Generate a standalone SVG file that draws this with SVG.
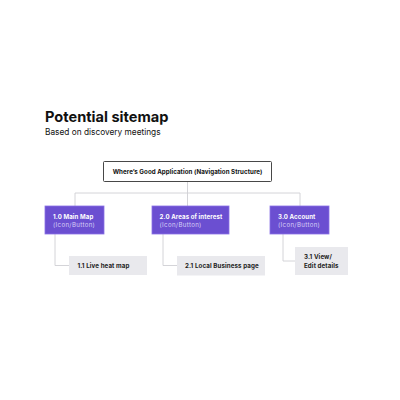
<svg xmlns="http://www.w3.org/2000/svg" width="400" height="400" viewBox="0 0 400 400">
<style>
text{font-family:"Inter","Liberation Sans",sans-serif}
.title{font-size:14.6px;font-weight:700;fill:#111}
.sub{font-size:8.3px;fill:#111}
.root{fill:#fff;stroke:#333;stroke-width:0.9}
.rootT{font-size:6.2px;font-weight:700;fill:#111;text-anchor:middle;letter-spacing:0.05px}
.main{fill:#6b4fd1;stroke:#8a72e6;stroke-width:0.8}
.mainT{font-size:6.1px;font-weight:700;fill:#fff;letter-spacing:0.1px}
.mainS{font-size:6.1px;fill:#d8cff7;letter-spacing:0.35px}
.child{fill:#e9e9ed}
.childT{font-size:6.2px;font-weight:700;fill:#222;letter-spacing:0.1px}
.conn{fill:none;stroke:#cfcfd4;stroke-width:0.9}
</style>
<rect width="400" height="400" fill="#fff"/>
<text class="title" x="45" y="121.5">Potential sitemap</text>
<text class="sub" x="45" y="135.3">Based on discovery meetings</text>
<g id="connectors">
<path class="conn" d="M187.5,181.5V193M75,193H300M75,193V206M187.5,193V206M300,193V206"/>
<path class="conn" d="M55,234V265.5H69"/>
<path class="conn" d="M163,234V265.5H177"/>
<path class="conn" d="M283,234V261H295"/>
</g>
<g id="root">
<rect class="root" x="103.5" y="161.5" width="168" height="20" rx="1"/>
<text class="rootT" x="187.5" y="173.6">Where’s Good Application (Navigation Structure)</text>
</g>
<g id="n1">
<rect class="main" x="45" y="206" width="59" height="28"/>
<text class="mainT" x="53" y="218.8">1.0 Main Map</text>
<text class="mainS" x="53" y="226.5">(Icon/Button)</text>
</g>
<g id="n2">
<rect class="main" x="152" y="206" width="77" height="28"/>
<text class="mainT" x="159.5" y="218.8">2.0 Areas of interest</text>
<text class="mainS" x="159.5" y="226.5">(Icon/Button)</text>
</g>
<g id="n3">
<rect class="main" x="270" y="206" width="59" height="28"/>
<text class="mainT" x="278" y="218.8">3.0 Account</text>
<text class="mainS" x="278" y="226.5">(Icon/Button)</text>
</g>
<g id="n11">
<rect class="child" x="69" y="256" width="78" height="19"/>
<text class="childT" x="77.5" y="267.6">1.1 Live heat map</text>
</g>
<g id="n21">
<rect class="child" x="177" y="256" width="88" height="19.5"/>
<text class="childT" x="185" y="267.6">2.1 Local Business page</text>
</g>
<g id="n31">
<rect class="child" x="295" y="247" width="53" height="28"/>
<text class="childT" x="304" y="258.8">3.1 View/</text>
<text class="childT" x="304" y="268.2">Edit details</text>
</g>
</svg>
